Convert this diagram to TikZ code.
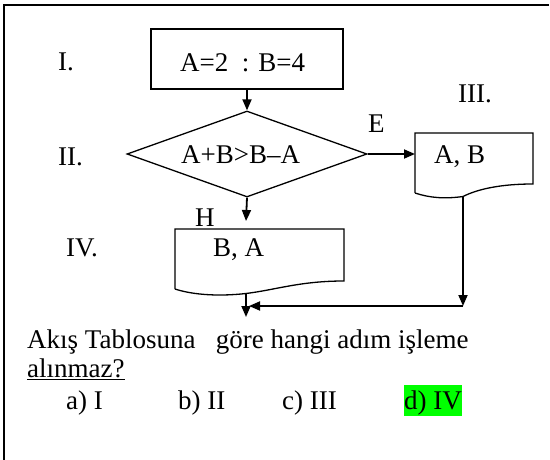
\documentclass[tikz,border=0pt]{standalone}
\usepackage{fontspec}
\setmainfont{Liberation Serif}
\usetikzlibrary{shapes.geometric,arrows.meta}
\definecolor{hlgreen}{RGB}{0,255,0}
\begin{document}
\begin{tikzpicture}[x=1pt,y=-1pt,
  every node/.style={font=\fontsize{27}{31}\selectfont},
  txt/.style={anchor=base west,inner sep=0pt},
  shapeline/.style={draw=black,line width=1.3pt},
  conn/.style={draw=black,line width=1.8pt,-{Triangle[length=11pt,width=9pt]}},
  frameline/.style={draw=black,line width=2pt}]
\useasboundingbox (0,0) rectangle (550,460);
% frame (top and left)
\draw[frameline] (549,5) -- (4,5) -- (4,460);

% process box I
\node[shapeline,rectangle,minimum width=192pt,minimum height=60pt,inner sep=0pt] (s1) at (247,59) {};
% decision II
\node[shapeline,diamond,minimum width=240pt,minimum height=86pt,inner sep=0pt] (s2) at (247,154) {};
% document III
\coordinate (d3nw) at (415,133);
\coordinate (d3ne) at (533,133);
\coordinate (d3se) at (533,184);
\coordinate (d3sw) at (415,193);
\coordinate (d3b) at (463,196.5);
\draw[shapeline] (d3sw) -- (d3nw) -- (d3ne) -- (d3se)
  .. controls (490,184) and (470,193) .. (d3b)
  .. controls (445,199) and (430,198) .. (d3sw);
% document IV
\coordinate (d4nw) at (175,229);
\coordinate (d4ne) at (344,229);
\coordinate (d4se) at (344,281);
\coordinate (d4sw) at (175,289);
\coordinate (d4b) at (246,293.5);
\draw[shapeline] (d4sw) -- (d4nw) -- (d4ne) -- (d4se)
  .. controls (300,281) and (275,290) .. (d4b)
  .. controls (215,297) and (190,294) .. (d4sw);

% texts inside shapes
\node[txt] (t1) at (180,72) {A=2\ \ : B=4};
\node[txt] (t2) at (181,164) {A+B>B–A};
\node[txt] (t3) at (434,164) {A, B};
\node[txt] (t4) at (213,257) {B, A};

% step labels
\node[txt] (l1) at (58,71) {I.};
\node[txt] (l2) at (58,165) {II.};
\node[txt] (l3) at (458,103) {III.};
\node[txt] (l4) at (66,257) {IV.};
\node[txt] (le) at (368,133) {E};
\node[txt] (lh) at (195,226) {H};

% connectors
\coordinate (hend) at (246,221);
\coordinate (corner) at (463,306);
\coordinate (join) at (249,306);
\coordinate (out) at (246,317);
\draw[conn] (s1.south) -- (s2.north);
\draw[conn] (s2.east) -- (d3nw |- s2.east);
\draw[conn] (s2.south) -- (hend);
\draw[conn] (d3b) -- (corner);
\draw[conn] (corner) -- (join);
\draw[conn] (d4b) -- (out);

% question
\node[txt] (q1) at (27,348) {Akış Tablosuna\ \ \ göre hangi adım işleme};
\node[txt] (q2) at (27,377) {\underline{alınmaz?}};
\node[txt] (oa) at (66,409) {a) I};
\node[txt] (ob) at (178,409) {b) II};
\node[txt] (oc) at (282,409) {c) III};
\fill[hlgreen] (404,385) rectangle (462,416);
\node[txt] (od) at (404,409) {d) IV};
\end{tikzpicture}
\end{document}
